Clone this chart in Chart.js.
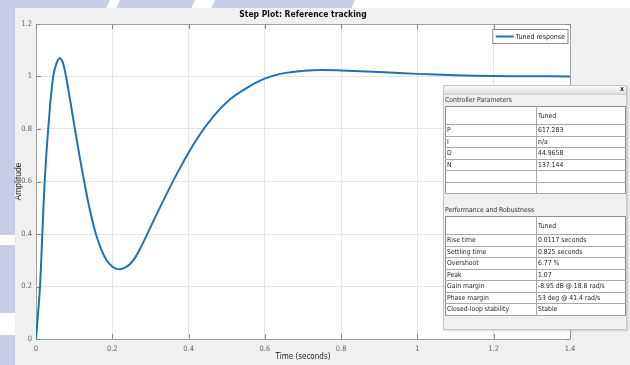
<!DOCTYPE html>
<html>
<head>
<meta charset="utf-8">
<script src="https://cdn.jsdelivr.net/npm/chart.js@4.4.1/dist/chart.umd.min.js"></script>
<style>
  body { margin: 0; width: 630px; height: 365px; overflow: hidden; position: relative; background: #fff;
         font-family: "Liberation Sans Narrow", "DejaVu Sans Condensed", "Liberation Sans", Arial, sans-serif; }
  .band { position: absolute; background: #c9cde5; transform-origin: 0 0; }
  #fig { position: absolute; left: 15px; top: 8px; width: 615px; height: 357px; background: #f0f0f0; }
  #chart { position: absolute; left: 0; top: 0; }
  #title { position: absolute; left: 0; width: 606px; top: 9px; text-align: center; font-weight: bold; font-size: 8.5px; color: #111; }
  #panel { position: absolute; left: 443px; top: 85px; width: 184px; height: 245px; background: #f0f0f0;
           border: 1px solid #c4c4c4; box-sizing: border-box; box-shadow: 1px 1px 2px rgba(0,0,0,0.15); }
  #bar { position: absolute; left: 0; top: 0; right: 0; height: 8px; background: linear-gradient(#fbfbfb, #dedede); border-bottom: 1px solid #cfcfcf; }
  #close { position: absolute; right: 2px; top: -1px; font-size: 7px; font-weight: bold; color: #333; }
  .cap { position: absolute; font-size: 6.8px; color: #333; }
  table { position: absolute; left: 445px; width: 181px; border-collapse: collapse; table-layout: fixed;
          background: #fff; border: 1px solid #8f8f8f; font-size: 6.8px; color: #222; }
  td { padding: 0 0 0 1px; border-bottom: 1px solid #a9a9a9; white-space: nowrap; overflow: hidden; line-height: 8px; }
  td:first-child { border-right: 1px solid #a9a9a9; width: 89px; }
  tr.head td { height: 17px; }
  tr.row td { height: 10.5px; }
</style>
</head>
<body>
<div class="band" style="left:-40px;top:0;width:150px;height:150px;transform:skewX(-25deg)"></div>
<div class="band" style="left:120px;top:0;width:75px;height:10px;transform:skewX(-25deg)"></div>
<div class="band" style="left:215px;top:0;width:140px;height:10px;transform:skewX(-25deg)"></div>
<div class="band" style="left:0;top:150px;width:15px;height:85px"></div>
<div class="band" style="left:0;top:245px;width:15px;height:68px"></div>
<div class="band" style="left:0;top:335px;width:15px;height:30px"></div>
<div id="fig"></div>
<canvas id="chart" width="630" height="365"></canvas>
<div id="title">Step Plot: Reference tracking</div>
<div id="panel"><div id="bar"><span id="close">x</span></div></div>
<div class="cap" style="left:445px;top:96px">Controller Parameters</div>
<table id="ctrl" style="top:106px"></table>
<div class="cap" style="left:445px;top:206px">Performance and Robustness</div>
<table id="perf" style="top:216px"></table>
<script>
// step response
const times = [0, 0.005, 0.0105, 0.0166, 0.0228, 0.032, 0.045, 0.055, 0.062, 0.07, 0.0787, 0.09, 0.102,
  0.115, 0.127, 0.14, 0.156, 0.17, 0.185, 0.2, 0.21, 0.22, 0.232, 0.246, 0.26, 0.275, 0.29, 0.334,
  0.377, 0.421, 0.465, 0.508, 0.552, 0.596, 0.64, 0.683, 0.718, 0.75, 0.8, 0.9, 1.0, 1.1, 1.2, 1.3, 1.4];
const amplitude = [0, 0.09, 0.2, 0.4, 0.6, 0.8, 1.0, 1.055, 1.07, 1.055, 1.0, 0.905, 0.8,
  0.69, 0.595, 0.5, 0.405, 0.345, 0.3, 0.276, 0.268, 0.266, 0.271, 0.285, 0.31, 0.35, 0.395, 0.528,
  0.65, 0.76, 0.848, 0.912, 0.956, 0.99, 1.01, 1.019, 1.023, 1.025, 1.023, 1.017, 1.01, 1.005, 1.002, 1.001, 1.0];
const xTicks = [0, 0.2, 0.4, 0.6, 0.8, 1, 1.2, 1.4];
const yTicks = [0, 0.2, 0.4, 0.6, 0.8, 1, 1.2];
const seriesName = 'Tuned response';
const ctrlRows = [['P', '617.283'], ['I', 'n/a'], ['D', '44.9658'], ['N', '137.144'], ['', ''], ['', '']];
const perfRows = [['Rise time', '0.0117 seconds'], ['Settling time', '0.825 seconds'], ['Overshoot', '6.77 %'],
  ['Peak', '1.07'], ['Gain margin', '-8.95 dB @ 18.8 rad/s'], ['Phase margin', '53 deg @ 41.4 rad/s'],
  ['Closed-loop stability', 'Stable']];

function fillTable(id, rows) {
  let html = '<tr class="head"><td></td><td>Tuned</td></tr>';
  rows.forEach(r => { html += '<tr class="row"><td>' + r[0] + '</td><td>' + r[1] + '</td></tr>'; });
  document.getElementById(id).innerHTML = html;
}
fillTable('ctrl', ctrlRows);
fillTable('perf', perfRows);

const narrow = '"Liberation Sans Narrow", "DejaVu Sans Condensed", "Liberation Sans", Arial, sans-serif';
const gridColor = c => (c.index === 0 || c.index === c.scale.ticks.length - 1) ? '#a0a0a0' : '#e4e4e4';
const fmt = v => String(+(+v).toFixed(1));

// white axes background
const axesBg = {
  id: 'axesBg',
  beforeDraw(chart) {
    const { ctx, chartArea: a } = chart;
    ctx.save();
    ctx.fillStyle = '#fff';
    ctx.fillRect(a.left, a.top, a.right - a.left, a.bottom - a.top);
    ctx.restore();
  }
};

// inner tick marks like the matlab axes
const innerTicks = {
  id: 'innerTicks',
  beforeDatasetsDraw(chart) {
    const { ctx, chartArea: a, scales } = chart;
    ctx.save();
    ctx.strokeStyle = '#8a8a8a';
    ctx.lineWidth = 1;
    ctx.beginPath();
    xTicks.forEach(v => {
      const px = Math.round(scales.x.getPixelForValue(v)) + 0.5;
      ctx.moveTo(px, a.bottom); ctx.lineTo(px, a.bottom - 5);
      ctx.moveTo(px, a.top); ctx.lineTo(px, a.top + 5);
    });
    yTicks.forEach(v => {
      const py = Math.round(scales.y.getPixelForValue(v)) + 0.5;
      ctx.moveTo(a.left, py); ctx.lineTo(a.left + 5, py);
      ctx.moveTo(a.right, py); ctx.lineTo(a.right - 5, py);
    });
    ctx.stroke();
    ctx.restore();
  }
};

// boxed legend in the top right corner of the axes
const boxLegend = {
  id: 'boxLegend',
  afterDraw(chart) {
    const { ctx, chartArea: a } = chart;
    const ds = chart.data.datasets[0];
    ctx.save();
    ctx.font = '7px ' + narrow;
    const w = ctx.measureText(ds.label).width + 26;
    const x0 = a.right - 2 - w, y0 = a.top + 5.5;
    ctx.fillStyle = '#fff';
    ctx.fillRect(x0, y0, w, 14);
    ctx.strokeStyle = '#8c8c8c';
    ctx.lineWidth = 1;
    ctx.strokeRect(x0, y0, w, 14);
    ctx.strokeStyle = ds.borderColor;
    ctx.lineWidth = 2;
    ctx.beginPath();
    ctx.moveTo(x0 + 3, y0 + 7); ctx.lineTo(x0 + 21, y0 + 7);
    ctx.stroke();
    ctx.fillStyle = '#222';
    ctx.textBaseline = 'middle';
    ctx.fillText(ds.label, x0 + 23, y0 + 7.5);
    ctx.restore();
  }
};

new Chart(document.getElementById('chart'), {
  type: 'line',
  data: {
    datasets: [{
      label: seriesName,
      data: times.map((t, i) => ({ x: t, y: amplitude[i] })),
      borderColor: '#1f72b8',
      borderWidth: 2,
      pointRadius: 0,
      tension: 0.4,
      fill: false
    }]
  },
  options: {
    responsive: false,
    animation: false,
    layout: { padding: { left: 14, top: 24, right: 60, bottom: 0 } },
    plugins: { legend: { display: false }, tooltip: { enabled: false } },
    scales: {
      x: {
        type: 'linear', min: 0, max: 1.4,
        afterBuildTicks: s => { s.ticks = xTicks.map(v => ({ value: v })); },
        afterFit: s => { s.height = 26; },
        ticks: { font: { family: narrow, size: 7.5 }, color: '#666', padding: 6, maxRotation: 0, autoSkip: false, callback: fmt },
        grid: { color: gridColor, drawTicks: false },
        border: { display: false },
        title: { display: true, text: 'Time (seconds)', color: '#222', font: { family: narrow, size: 8 }, padding: { top: 0, bottom: 3 } }
      },
      y: {
        min: 0, max: 1.2,
        afterBuildTicks: s => { s.ticks = yTicks.map(v => ({ value: v })); },
        afterFit: s => { s.width = 22; },
        ticks: { font: { family: narrow, size: 7.5 }, color: '#666', padding: 4, autoSkip: false, callback: fmt },
        grid: { color: gridColor, drawTicks: false },
        border: { display: false },
        title: { display: true, text: 'Amplitude', color: '#222', font: { family: 'Liberation Sans, Arial, sans-serif', size: 8.5 }, padding: { top: 0, bottom: 0 } }
      }
    }
  },
  plugins: [axesBg, innerTicks, boxLegend]
});
</script>
</body>
</html>
